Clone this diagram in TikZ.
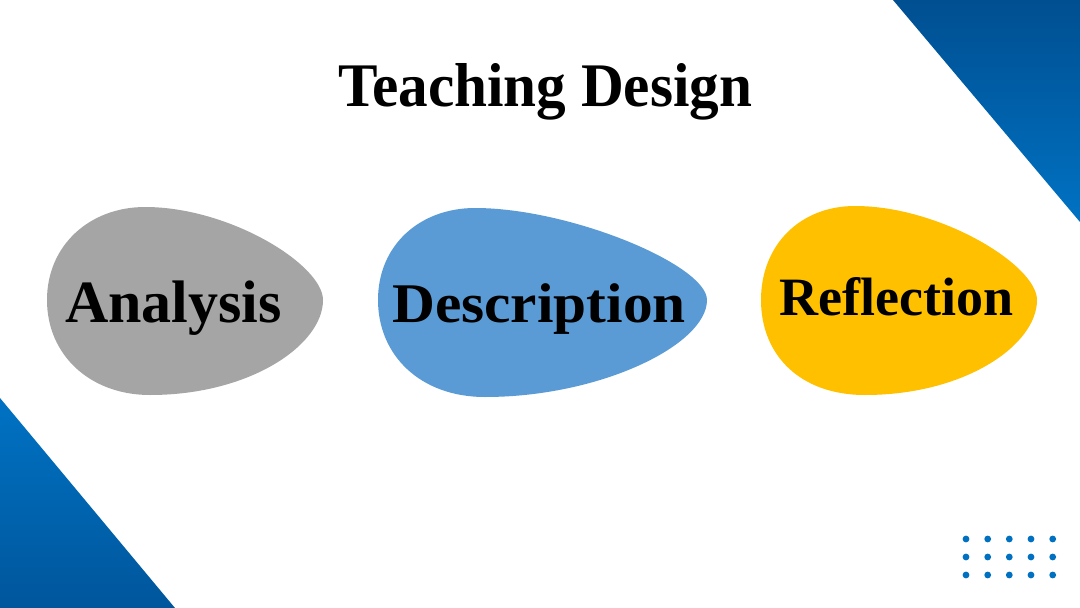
\documentclass[tikz,border=0pt]{standalone}
\usepackage{fontspec}
\setmainfont{Liberation Serif}[Ligatures=NoCommon]
\definecolor{bluedark}{HTML}{004F91}
\definecolor{bluemid}{HTML}{0072C3}
\definecolor{bluelow}{HTML}{00569C}
\definecolor{eggGray}{HTML}{A5A5A5}
\definecolor{eggBlue}{HTML}{5B9BD5}
\definecolor{eggYellow}{HTML}{FFC000}
\definecolor{dotBlue}{HTML}{0070C0}
\tikzset{
  label text/.style={anchor=base west, inner sep=0pt, font=\bfseries, text=black},
  dotmark/.style={fill=dotBlue, draw=none},
}
\begin{document}
\begin{tikzpicture}[x=1pt,y=-1pt]
\useasboundingbox (0,0) rectangle (1080,608);
\fill[white] (0,0) rectangle (1080,608);
% corner triangles
\shade[top color=bluedark, bottom color=bluemid] (893,0) -- (1080,0) -- (1080,222) -- cycle;
\shade[top color=bluemid, bottom color=bluelow] (0,398) -- (0,608) -- (175,608) -- cycle;
% title
\node[label text, font=\bfseries\fontsize{62}{70}\selectfont, xscale=0.955] (title) at (338,106) {Teaching Design};
% eggs
\fill[eggGray] (47,300) .. controls (47,245) and (90,207) .. (145,207)
  .. controls (230,207) and (323,265) .. (323,300)
  .. controls (323,345) and (250,395) .. (150,395)
  .. controls (90,395) and (47,355) .. cycle;
\fill[eggBlue] (378,300) .. controls (378,245) and (420,208) .. (475,208)
  .. controls (570,208) and (707,265) .. (707,300)
  .. controls (707,345) and (600,397) .. (485,397)
  .. controls (420,397) and (378,355) .. cycle;
\fill[eggYellow] (761,300) .. controls (761,245) and (800,206) .. (855,206)
  .. controls (940,206) and (1037,265) .. (1037,300)
  .. controls (1037,345) and (965,395) .. (865,395)
  .. controls (800,395) and (761,355) .. cycle;
% labels
\node[label text, font=\bfseries\fontsize{60}{68}\selectfont] (analysis) at (65,322) {Analysis};
\node[label text, font=\bfseries\fontsize{56}{64}\selectfont, xscale=1.06] (description) at (392,322) {Description};
\node[label text, font=\bfseries\fontsize{54}{62}\selectfont] (reflection) at (779,315) {Reflection};
% dots
\foreach \i/\xx in {1/966,2/987.7,3/1009.3,4/1031,5/1052.7}{
  \foreach \j/\yy in {1/539,2/557,3/575}{
    \fill[dotmark] (\xx,\yy) circle (3.4);
  }
}
\end{tikzpicture}
\end{document}
